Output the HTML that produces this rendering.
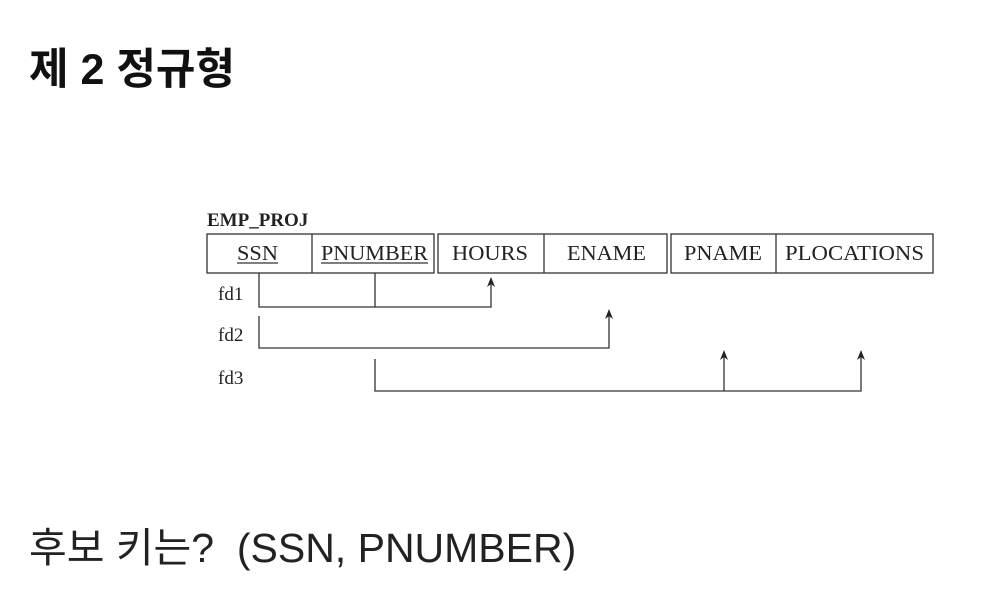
<!DOCTYPE html>
<html><head><meta charset="utf-8"><style>
body{margin:0;width:996px;height:614px;background:#fff;overflow:hidden;position:relative;font-family:"Liberation Sans","Noto Sans CJK KR",sans-serif;}
.t{position:absolute;white-space:nowrap;color:#111}
</style></head><body>
<div class="t" style="left:29px;top:35px;font-size:43px;font-weight:bold;">제 2 정규형</div>
<div class="t" style="left:29px;top:514px;font-size:41px;color:#222">후보 키는?&nbsp;&nbsp;(SSN, PNUMBER)</div>
<svg width="996" height="614" style="position:absolute;left:0;top:0" font-family="Liberation Serif, serif" font-size="21" fill="#222">
<text x="207" y="226" font-weight="bold" font-size="19">EMP_PROJ</text>
<g fill="none" stroke="#333" stroke-width="1.3">
<rect x="207" y="234" width="227" height="39"/><line x1="312" y1="234" x2="312" y2="273"/>
<rect x="438" y="234" width="229" height="39"/><line x1="544" y1="234" x2="544" y2="273"/>
<rect x="671" y="234" width="262" height="39"/><line x1="776" y1="234" x2="776" y2="273"/>
<line x1="237" y1="263" x2="278" y2="263"/><line x1="321" y1="263" x2="428" y2="263"/>
<polyline points="259,273 259,307 491,307 491,280"/>
<line x1="375" y1="273" x2="375" y2="307"/>
<polyline points="259,316 259,348 609,348 609,312"/>
<polyline points="375,359 375,391 861,391 861,354"/>
<line x1="724" y1="391" x2="724" y2="354"/>
</g>
<g fill="#222">
<path d="M487,287 L491,277 L495,287 L491,284Z"/>
<path d="M605,319 L609,309 L613,319 L609,316Z"/>
<path d="M720,360 L724,350 L728,360 L724,357Z"/>
<path d="M857,360 L861,350 L865,360 L861,357Z"/>
</g>
<text x="237" y="260" textLength="41" lengthAdjust="spacingAndGlyphs">SSN</text>
<text x="321" y="260" textLength="107" lengthAdjust="spacingAndGlyphs">PNUMBER</text>
<text x="452" y="260" textLength="76" lengthAdjust="spacingAndGlyphs">HOURS</text>
<text x="567" y="260" textLength="79" lengthAdjust="spacingAndGlyphs">ENAME</text>
<text x="684" y="260" textLength="78" lengthAdjust="spacingAndGlyphs">PNAME</text>
<text x="785" y="260" textLength="139" lengthAdjust="spacingAndGlyphs">PLOCATIONS</text>
<text x="218" y="300" font-size="19">fd1</text>
<text x="218" y="341" font-size="19">fd2</text>
<text x="218" y="384" font-size="19">fd3</text>
</svg>
</body></html>
